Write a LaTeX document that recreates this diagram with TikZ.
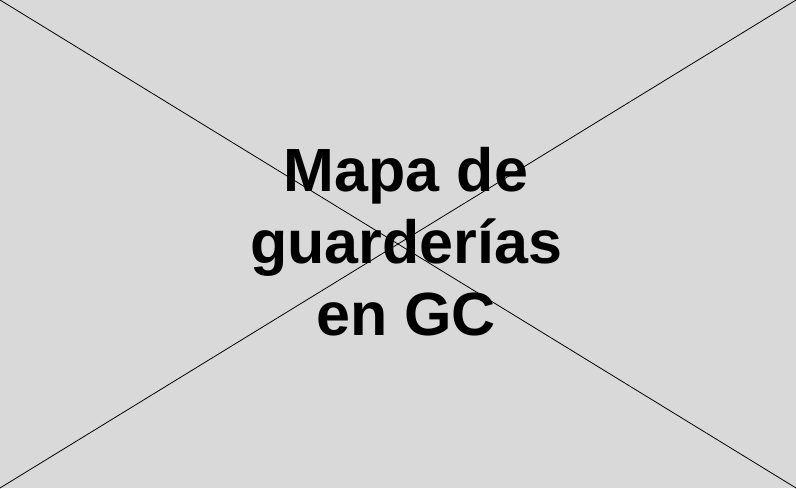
\documentclass[tikz,border=0pt]{standalone}
\usepackage{fontspec}
\setmainfont{Liberation Sans}
\usepackage{tikz}
\usetikzlibrary{positioning}
\definecolor{placeholdergray}{HTML}{D9D9D9}

\begin{document}
\begin{tikzpicture}[x=1pt,y=1pt]

\fill[placeholdergray] (0,0) rectangle (796,488);
\useasboundingbox (0,0) rectangle (796,488);

\coordinate (bl) at (0,0);
\coordinate (br) at (796,0);
\coordinate (tl) at (0,488);
\coordinate (tr) at (796,488);

\draw[black, line width=0.8pt] (tl)--(br);
\draw[black, line width=0.8pt] (bl)--(tr);

\node[align=center, font=\fontsize{61}{72}\selectfont\bfseries] (title) at (406,246)
{Mapa de\\guarderías\\en GC};

\end{tikzpicture}
\end{document}
